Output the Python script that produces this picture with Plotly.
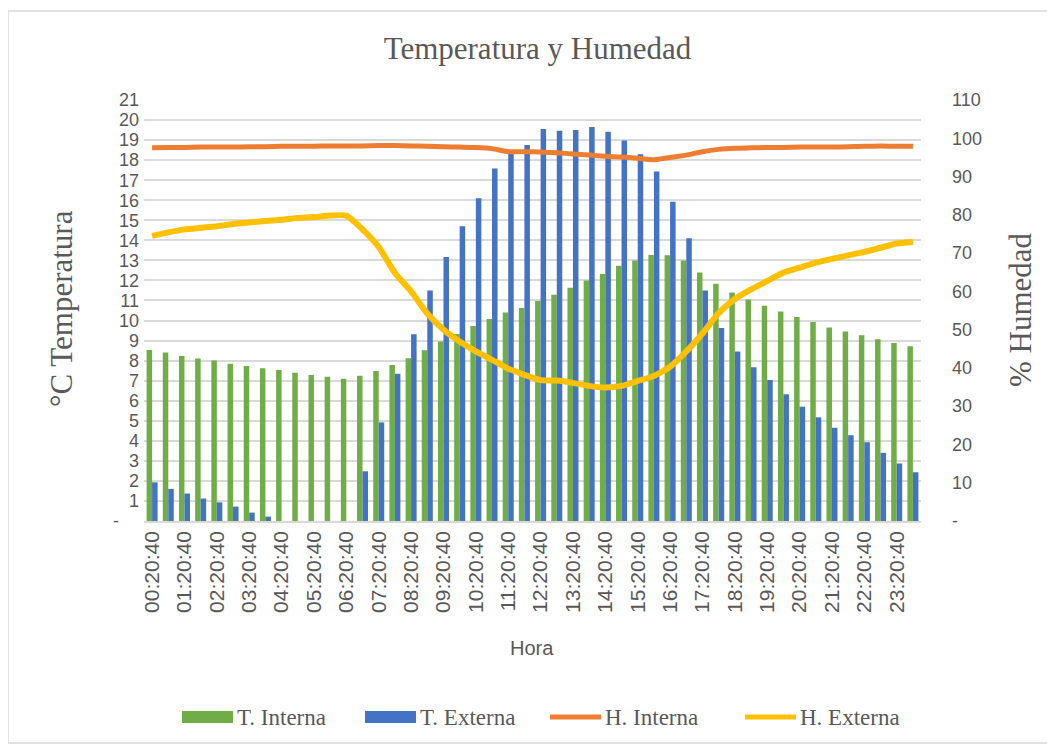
import plotly.graph_objects as go

categories = [
    "00:20:40", "00:50:40", "01:20:40", "01:50:40", "02:20:40", "02:50:40",
    "03:20:40", "03:50:40", "04:20:40", "04:50:40", "05:20:40", "05:50:40",
    "06:20:40", "06:50:40", "07:20:40", "07:50:40", "08:20:40", "08:50:40",
    "09:20:40", "09:50:40", "10:20:40", "10:50:40", "11:20:40", "11:50:40",
    "12:20:40", "12:50:40", "13:20:40", "13:50:40", "14:20:40", "14:50:40",
    "15:20:40", "15:50:40", "16:20:40", "16:50:40", "17:20:40", "17:50:40",
    "18:20:40", "18:50:40", "19:20:40", "19:50:40", "20:20:40", "20:50:40",
    "21:20:40", "21:50:40", "22:20:40", "22:50:40", "23:20:40", "23:50:40",
]
shown_ticks = [
    "00:20:40", "01:20:40", "02:20:40", "03:20:40", "04:20:40", "05:20:40",
    "06:20:40", "07:20:40", "08:20:40", "09:20:40", "10:20:40", "11:20:40",
    "12:20:40", "13:20:40", "14:20:40", "15:20:40", "16:20:40", "17:20:40",
    "18:20:40", "19:20:40", "20:20:40", "21:20:40", "22:20:40", "23:20:40",
]

t_interna = [
    8.53, 8.40, 8.23, 8.10, 8.00, 7.85, 7.73, 7.62, 7.53, 7.40, 7.28, 7.20,
    7.10, 7.25, 7.48, 7.78, 8.12, 8.52, 8.95, 9.33, 9.73, 10.07, 10.40, 10.63,
    10.97, 11.28, 11.63, 12.00, 12.32, 12.73, 13.00, 13.27, 13.25, 13.00, 12.40, 11.83,
    11.40, 11.05, 10.74, 10.45, 10.18, 9.93, 9.65, 9.45, 9.27, 9.07, 8.88, 8.72,
]
t_externa = [
    1.93, 1.60, 1.37, 1.12, 0.93, 0.72, 0.42, 0.22, 0.00, -0.08, -0.08, -0.08,
    -0.08, 2.48, 4.92, 7.35, 9.32, 11.50, 13.17, 14.70, 16.10, 17.58, 18.50, 18.75,
    19.55, 19.47, 19.50, 19.65, 19.42, 18.98, 18.30, 17.43, 15.93, 14.10, 11.50, 9.63,
    8.45, 7.67, 7.03, 6.32, 5.70, 5.17, 4.65, 4.28, 3.93, 3.40, 2.87, 2.43,
]
h_interna = [
    97.5, 97.6, 97.6, 97.7, 97.7, 97.7, 97.8, 97.8, 97.9, 97.9, 97.9, 98.0,
    98.0, 98.0, 98.1, 98.1, 98.0, 97.9, 97.8, 97.7, 97.6, 97.3, 96.5, 96.5,
    96.4, 96.2, 95.9, 95.6, 95.3, 95.1, 94.8, 94.4, 95.0, 95.6, 96.5, 97.1,
    97.4, 97.5, 97.6, 97.6, 97.7, 97.7, 97.7, 97.8, 97.9, 98.0, 97.9, 97.9,
]
h_externa = [
    74.5, 75.4, 76.2, 76.6, 77.0, 77.6, 78.0, 78.4, 78.7, 79.2, 79.4, 79.8,
    79.8, 76.2, 71.6, 64.8, 60.0, 54.2, 50.0, 46.9, 44.3, 42.1, 39.8, 38.2,
    36.8, 36.7, 36.1, 35.3, 34.9, 35.3, 36.6, 37.9, 40.3, 44.3, 49.0, 54.3,
    58.0, 60.5, 62.7, 64.9, 66.2, 67.5, 68.5, 69.4, 70.3, 71.4, 72.5, 72.9,
]

left_ticks = list(range(0, 22))
left_text = ["-\u00a0\u00a0\u00a0\u00a0"] + [str(v) for v in range(1, 22)]
right_ticks = list(range(0, 111, 10))
right_text = ["-"] + [str(v) for v in range(10, 111, 10)]

GREEN = "#70AD47"
BLUE = "#4472C4"
ORANGE = "#ED7D31"
YELLOW = "#FFC000"
GREY = "#595959"
GRID = "#D9D9D9"

# the page body has an 8px margin, so work in page coordinates and offset
OFF = 8
W, H = 1055 - OFF, 746 - OFF
L, R, T, B = 144, 921, 100, 521  # plot area in page pixels
PW, PH = R - L, B - T


def px(x):
    return (x - L) / PW


def py(y):
    return (B - y) / PH


fig = go.Figure()
fig.add_trace(go.Bar(x=categories, y=t_interna, name="T. Interna",
                     marker=dict(color=GREEN, line=dict(width=0)), yaxis="y"))
fig.add_trace(go.Bar(x=categories, y=t_externa, name="T. Externa",
                     marker=dict(color=BLUE, line=dict(width=0)), yaxis="y"))
fig.add_trace(go.Scatter(x=categories, y=h_interna, name="H. Interna", mode="lines",
                         line=dict(color=ORANGE, width=5, shape="spline", smoothing=0.5),
                         yaxis="y2"))
fig.add_trace(go.Scatter(x=categories, y=h_externa, name="H. Externa", mode="lines",
                         line=dict(color=YELLOW, width=6, shape="spline", smoothing=0.5),
                         yaxis="y2"))

sans = "Liberation Sans"
serif = "Liberation Serif"

fig.update_layout(
    width=W, height=H,
    margin=dict(l=L - OFF, r=(W + OFF) - R, t=T - OFF, b=(H + OFF) - B, pad=0),
    paper_bgcolor="white", plot_bgcolor="white",
    barmode="group", bargap=0.32, bargroupgap=0,
    showlegend=False,
    title=dict(text="Temperatura y Humedad", x=px(537.5), xanchor="center",
               y=1 - (48 - OFF) / H, yanchor="middle", yref="container", xref="paper",
               font=dict(family=serif, size=31, color=GREY)),
    xaxis=dict(type="category", categoryorder="array", categoryarray=categories,
               tickmode="array", tickvals=shown_ticks, ticktext=shown_ticks,
               tickangle=-90, tickfont=dict(family=sans, size=21, color=GREY),
               showgrid=False, showline=True, linecolor=GRID, linewidth=1.5,
               ticks="", range=[-0.5, 47.5]),
    yaxis=dict(range=[0, 21], tickmode="array", tickvals=left_ticks, ticktext=left_text,
               tickfont=dict(family=sans, size=18, color=GREY),
               showgrid=True, gridcolor=GRID, gridwidth=1.5, zeroline=False,
               showline=False, ticks="", ticklabelstandoff=4),
    yaxis2=dict(range=[0, 110], overlaying="y", side="right", tickmode="array",
                tickvals=right_ticks, ticktext=right_text,
                tickfont=dict(family=sans, size=18, color=GREY),
                showgrid=False, zeroline=False, showline=False, ticks="",
                ticklabelstandoff=30),
)

annotations = [
    dict(text="°C Temperatura", x=px(61), y=py(309), xref="paper", yref="paper",
         textangle=-90, showarrow=False, xanchor="center", yanchor="middle",
         font=dict(family=serif, size=31, color=GREY)),
    dict(text="% Humedad", x=px(1020), y=py(310), xref="paper", yref="paper",
         textangle=-90, showarrow=False, xanchor="center", yanchor="middle",
         font=dict(family=serif, size=31, color=GREY)),
    dict(text="Hora", x=px(532), y=py(648), xref="paper", yref="paper",
         showarrow=False, xanchor="center", yanchor="middle",
         font=dict(family=sans, size=20, color=GREY)),
]

shapes = [
    dict(type="rect", xref="paper", yref="paper", x0=px(8), x1=px(1050),
         y0=py(743), y1=py(11), line=dict(color=GRID, width=1.5), layer="below"),
]

legend_items = [
    ("T. Interna", GREEN, "rect", 182),
    ("T. Externa", BLUE, "rect", 365),
    ("H. Interna", ORANGE, "line", 550),
    ("H. Externa", YELLOW, "line", 745),
]
ly = 717
for label, color, kind, x0 in legend_items:
    if kind == "rect":
        shapes.append(dict(type="rect", xref="paper", yref="paper",
                           x0=px(x0), x1=px(x0 + 51), y0=py(ly + 6), y1=py(ly - 6),
                           fillcolor=color, line=dict(width=0)))
    else:
        shapes.append(dict(type="line", xref="paper", yref="paper",
                           x0=px(x0), x1=px(x0 + 51), y0=py(ly), y1=py(ly),
                           line=dict(color=color, width=5)))
    annotations.append(dict(text=label, x=px(x0 + 53), y=py(ly), xref="paper",
                            yref="paper", showarrow=False, xanchor="left",
                            yanchor="middle",
                            font=dict(family=serif, size=23, color=GREY)))

fig.update_layout(annotations=annotations, shapes=shapes)
fig.write_html("out.html")
